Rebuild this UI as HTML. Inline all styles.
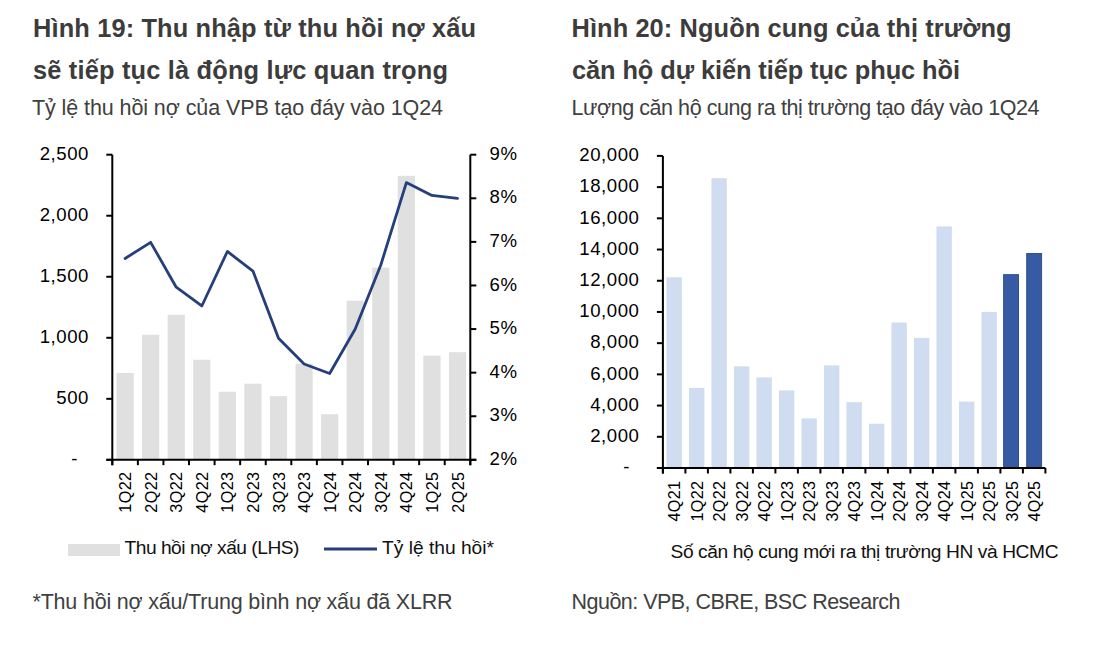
<!DOCTYPE html>
<html><head><meta charset="utf-8"><style>
html,body{margin:0;padding:0;background:#fff;width:1104px;height:654px;overflow:hidden;position:relative}
.t{position:absolute;white-space:nowrap;font-family:"Liberation Sans",sans-serif;line-height:1}
.h{font-weight:bold;color:#3c3c3c;font-size:25.6px}
.s{color:#404040;font-size:20px}
.lg{color:#111;font-size:18px}
</style></head><body>
<svg width="1104" height="654" viewBox="0 0 1104 654" style="position:absolute;left:0;top:0"><rect x="116.49" y="372.94" width="17.2" height="86.91" fill="#e0e0e0"/><rect x="142.06" y="334.74" width="17.2" height="125.11" fill="#e0e0e0"/><rect x="167.63" y="314.84" width="17.2" height="145.01" fill="#e0e0e0"/><rect x="193.20" y="359.76" width="17.2" height="100.09" fill="#e0e0e0"/><rect x="218.77" y="391.74" width="17.2" height="68.11" fill="#e0e0e0"/><rect x="244.34" y="383.68" width="17.2" height="76.17" fill="#e0e0e0"/><rect x="269.91" y="396.13" width="17.2" height="63.72" fill="#e0e0e0"/><rect x="295.49" y="363.67" width="17.2" height="96.18" fill="#e0e0e0"/><rect x="321.06" y="414.20" width="17.2" height="45.65" fill="#e0e0e0"/><rect x="346.63" y="300.68" width="17.2" height="159.17" fill="#e0e0e0"/><rect x="372.20" y="267.61" width="17.2" height="192.24" fill="#e0e0e0"/><rect x="397.77" y="175.82" width="17.2" height="284.03" fill="#e0e0e0"/><rect x="423.34" y="355.61" width="17.2" height="104.24" fill="#e0e0e0"/><rect x="448.91" y="352.19" width="17.2" height="107.66" fill="#e0e0e0"/><polyline points="125.09,258.45 150.66,242.32 176.23,287.22 201.80,305.97 227.37,251.48 252.94,271.09 278.51,338.23 304.09,363.95 329.66,373.54 355.23,329.07 380.80,264.99 406.37,182.60 431.94,195.46 457.51,198.29" fill="none" stroke="#243f7b" stroke-width="2.8" stroke-linejoin="round" stroke-linecap="round"/><g stroke="#000" stroke-width="2" fill="none"><line x1="112.3" y1="154.7" x2="112.3" y2="465.15000000000003"/><line x1="470.3" y1="154.7" x2="470.3" y2="465.15000000000003"/><line x1="106.3" y1="459.85" x2="476.3" y2="459.85"/><line x1="106.3" y1="154.70" x2="112.3" y2="154.70"/><line x1="106.3" y1="215.73" x2="112.3" y2="215.73"/><line x1="106.3" y1="276.76" x2="112.3" y2="276.76"/><line x1="106.3" y1="337.79" x2="112.3" y2="337.79"/><line x1="106.3" y1="398.82" x2="112.3" y2="398.82"/><line x1="106.3" y1="459.85" x2="112.3" y2="459.85"/><line x1="470.3" y1="154.70" x2="476.3" y2="154.70"/><line x1="470.3" y1="198.29" x2="476.3" y2="198.29"/><line x1="470.3" y1="241.89" x2="476.3" y2="241.89"/><line x1="470.3" y1="285.48" x2="476.3" y2="285.48"/><line x1="470.3" y1="329.07" x2="476.3" y2="329.07"/><line x1="470.3" y1="372.66" x2="476.3" y2="372.66"/><line x1="470.3" y1="416.26" x2="476.3" y2="416.26"/><line x1="470.3" y1="459.85" x2="476.3" y2="459.85"/><line x1="112.30" y1="459.85" x2="112.30" y2="465.15000000000003"/><line x1="137.87" y1="459.85" x2="137.87" y2="465.15000000000003"/><line x1="163.44" y1="459.85" x2="163.44" y2="465.15000000000003"/><line x1="189.01" y1="459.85" x2="189.01" y2="465.15000000000003"/><line x1="214.59" y1="459.85" x2="214.59" y2="465.15000000000003"/><line x1="240.16" y1="459.85" x2="240.16" y2="465.15000000000003"/><line x1="265.73" y1="459.85" x2="265.73" y2="465.15000000000003"/><line x1="291.30" y1="459.85" x2="291.30" y2="465.15000000000003"/><line x1="316.87" y1="459.85" x2="316.87" y2="465.15000000000003"/><line x1="342.44" y1="459.85" x2="342.44" y2="465.15000000000003"/><line x1="368.01" y1="459.85" x2="368.01" y2="465.15000000000003"/><line x1="393.59" y1="459.85" x2="393.59" y2="465.15000000000003"/><line x1="419.16" y1="459.85" x2="419.16" y2="465.15000000000003"/><line x1="444.73" y1="459.85" x2="444.73" y2="465.15000000000003"/><line x1="470.30" y1="459.85" x2="470.30" y2="465.15000000000003"/></g><rect x="666.45" y="277.24" width="15.4" height="190.76" fill="#d0dcf0"/><rect x="688.95" y="387.87" width="15.4" height="80.13" fill="#d0dcf0"/><rect x="711.45" y="178.22" width="15.4" height="289.78" fill="#d0dcf0"/><rect x="733.95" y="366.36" width="15.4" height="101.64" fill="#d0dcf0"/><rect x="756.45" y="377.37" width="15.4" height="90.63" fill="#d0dcf0"/><rect x="778.95" y="390.38" width="15.4" height="77.62" fill="#d0dcf0"/><rect x="801.45" y="418.39" width="15.4" height="49.61" fill="#d0dcf0"/><rect x="823.95" y="365.37" width="15.4" height="102.63" fill="#d0dcf0"/><rect x="846.45" y="402.22" width="15.4" height="65.78" fill="#d0dcf0"/><rect x="868.95" y="423.74" width="15.4" height="44.26" fill="#d0dcf0"/><rect x="891.45" y="322.51" width="15.4" height="145.49" fill="#d0dcf0"/><rect x="913.95" y="337.84" width="15.4" height="130.16" fill="#d0dcf0"/><rect x="936.45" y="226.39" width="15.4" height="241.61" fill="#d0dcf0"/><rect x="958.95" y="401.62" width="15.4" height="66.38" fill="#d0dcf0"/><rect x="981.45" y="311.90" width="15.4" height="156.10" fill="#d0dcf0"/><rect x="1003.60" y="274.65" width="14.9" height="193.35" fill="#375ba3" stroke="#2d5199" stroke-width="1"/><rect x="1026.70" y="253.53" width="14.9" height="214.47" fill="#375ba3" stroke="#2d5199" stroke-width="1"/><g stroke="#000" stroke-width="2" fill="none"><line x1="662.9" y1="155.9" x2="662.9" y2="473.5"/><line x1="656.9" y1="468.0" x2="1045.4" y2="468.0"/><line x1="656.9" y1="155.90" x2="662.9" y2="155.90"/><line x1="656.9" y1="187.11" x2="662.9" y2="187.11"/><line x1="656.9" y1="218.32" x2="662.9" y2="218.32"/><line x1="656.9" y1="249.53" x2="662.9" y2="249.53"/><line x1="656.9" y1="280.74" x2="662.9" y2="280.74"/><line x1="656.9" y1="311.95" x2="662.9" y2="311.95"/><line x1="656.9" y1="343.16" x2="662.9" y2="343.16"/><line x1="656.9" y1="374.37" x2="662.9" y2="374.37"/><line x1="656.9" y1="405.58" x2="662.9" y2="405.58"/><line x1="656.9" y1="436.79" x2="662.9" y2="436.79"/><line x1="656.9" y1="468.00" x2="662.9" y2="468.00"/><line x1="662.90" y1="468.0" x2="662.90" y2="473.5"/><line x1="685.40" y1="468.0" x2="685.40" y2="473.5"/><line x1="707.90" y1="468.0" x2="707.90" y2="473.5"/><line x1="730.40" y1="468.0" x2="730.40" y2="473.5"/><line x1="752.90" y1="468.0" x2="752.90" y2="473.5"/><line x1="775.40" y1="468.0" x2="775.40" y2="473.5"/><line x1="797.90" y1="468.0" x2="797.90" y2="473.5"/><line x1="820.40" y1="468.0" x2="820.40" y2="473.5"/><line x1="842.90" y1="468.0" x2="842.90" y2="473.5"/><line x1="865.40" y1="468.0" x2="865.40" y2="473.5"/><line x1="887.90" y1="468.0" x2="887.90" y2="473.5"/><line x1="910.40" y1="468.0" x2="910.40" y2="473.5"/><line x1="932.90" y1="468.0" x2="932.90" y2="473.5"/><line x1="955.40" y1="468.0" x2="955.40" y2="473.5"/><line x1="977.90" y1="468.0" x2="977.90" y2="473.5"/><line x1="1000.40" y1="468.0" x2="1000.40" y2="473.5"/><line x1="1022.90" y1="468.0" x2="1022.90" y2="473.5"/><line x1="1045.40" y1="468.0" x2="1045.40" y2="473.5"/></g><g font-family="Liberation Sans, sans-serif" font-size="18.6" letter-spacing="0.55" fill="#000"><text x="89" y="159.90" text-anchor="end">2,500</text><text x="89" y="220.93" text-anchor="end">2,000</text><text x="89" y="281.96" text-anchor="end">1,500</text><text x="89" y="342.99" text-anchor="end">1,000</text><text x="89" y="404.02" text-anchor="end">500</text><text x="78" y="465.05" text-anchor="end">-</text><text x="489.5" y="159.90">9%</text><text x="489.5" y="203.49">8%</text><text x="489.5" y="247.09">7%</text><text x="489.5" y="290.68">6%</text><text x="489.5" y="334.27">5%</text><text x="489.5" y="377.86">4%</text><text x="489.5" y="421.46">3%</text><text x="489.5" y="465.05">2%</text></g><g font-family="Liberation Sans, sans-serif" font-size="16.2" letter-spacing="0.35" fill="#000"><text transform="translate(131.09,471.65) rotate(-90)" text-anchor="end">1Q22</text><text transform="translate(156.66,471.65) rotate(-90)" text-anchor="end">2Q22</text><text transform="translate(182.23,471.65) rotate(-90)" text-anchor="end">3Q22</text><text transform="translate(207.80,471.65) rotate(-90)" text-anchor="end">4Q22</text><text transform="translate(233.37,471.65) rotate(-90)" text-anchor="end">1Q23</text><text transform="translate(258.94,471.65) rotate(-90)" text-anchor="end">2Q23</text><text transform="translate(284.51,471.65) rotate(-90)" text-anchor="end">3Q23</text><text transform="translate(310.09,471.65) rotate(-90)" text-anchor="end">4Q23</text><text transform="translate(335.66,471.65) rotate(-90)" text-anchor="end">1Q24</text><text transform="translate(361.23,471.65) rotate(-90)" text-anchor="end">2Q24</text><text transform="translate(386.80,471.65) rotate(-90)" text-anchor="end">3Q24</text><text transform="translate(412.37,471.65) rotate(-90)" text-anchor="end">4Q24</text><text transform="translate(437.94,471.65) rotate(-90)" text-anchor="end">1Q25</text><text transform="translate(463.51,471.65) rotate(-90)" text-anchor="end">2Q25</text><text transform="translate(680.15,480.60) rotate(-90)" text-anchor="end">4Q21</text><text transform="translate(702.65,480.60) rotate(-90)" text-anchor="end">1Q22</text><text transform="translate(725.15,480.60) rotate(-90)" text-anchor="end">2Q22</text><text transform="translate(747.65,480.60) rotate(-90)" text-anchor="end">3Q22</text><text transform="translate(770.15,480.60) rotate(-90)" text-anchor="end">4Q22</text><text transform="translate(792.65,480.60) rotate(-90)" text-anchor="end">1Q23</text><text transform="translate(815.15,480.60) rotate(-90)" text-anchor="end">2Q23</text><text transform="translate(837.65,480.60) rotate(-90)" text-anchor="end">3Q23</text><text transform="translate(860.15,480.60) rotate(-90)" text-anchor="end">4Q23</text><text transform="translate(882.65,480.60) rotate(-90)" text-anchor="end">1Q24</text><text transform="translate(905.15,480.60) rotate(-90)" text-anchor="end">2Q24</text><text transform="translate(927.65,480.60) rotate(-90)" text-anchor="end">3Q24</text><text transform="translate(950.15,480.60) rotate(-90)" text-anchor="end">4Q24</text><text transform="translate(972.65,480.60) rotate(-90)" text-anchor="end">1Q25</text><text transform="translate(995.15,480.60) rotate(-90)" text-anchor="end">2Q25</text><text transform="translate(1017.65,480.60) rotate(-90)" text-anchor="end">3Q25</text><text transform="translate(1040.15,480.60) rotate(-90)" text-anchor="end">4Q25</text></g><g font-family="Liberation Sans, sans-serif" font-size="18.6" letter-spacing="0.55" fill="#000"><text x="639.5" y="161.10" text-anchor="end">20,000</text><text x="639.5" y="192.31" text-anchor="end">18,000</text><text x="639.5" y="223.52" text-anchor="end">16,000</text><text x="639.5" y="254.73" text-anchor="end">14,000</text><text x="639.5" y="285.94" text-anchor="end">12,000</text><text x="639.5" y="317.15" text-anchor="end">10,000</text><text x="639.5" y="348.36" text-anchor="end">8,000</text><text x="639.5" y="379.57" text-anchor="end">6,000</text><text x="639.5" y="410.78" text-anchor="end">4,000</text><text x="639.5" y="441.99" text-anchor="end">2,000</text><text x="630" y="473.20" text-anchor="end">-</text></g><rect x="68" y="544" width="52" height="12" fill="#e0e0e0"/><line x1="324" y1="549" x2="377" y2="549" stroke="#243f7b" stroke-width="3"/><text x="33" y="36.7" font-family="Liberation Sans, sans-serif" font-size="25.4" font-weight="bold" fill="#3c3c3c" textLength="443" lengthAdjust="spacing">Hình 19: Thu nhập từ thu hồi nợ xấu</text><text x="33" y="78.6" font-family="Liberation Sans, sans-serif" font-size="25.4" font-weight="bold" fill="#3c3c3c" textLength="415" lengthAdjust="spacing">sẽ tiếp tục là động lực quan trọng</text><text x="32" y="115" font-family="Liberation Sans, sans-serif" font-size="21.5" font-weight="normal" fill="#404040" textLength="411" lengthAdjust="spacing">Tỷ lệ thu hồi nợ của VPB tạo đáy vào 1Q24</text><text x="124.5" y="554" font-family="Liberation Sans, sans-serif" font-size="19.2" font-weight="normal" fill="#111" textLength="175" lengthAdjust="spacing">Thu hồi nợ xấu (LHS)</text><text x="382" y="554" font-family="Liberation Sans, sans-serif" font-size="19.2" font-weight="normal" fill="#111" textLength="112" lengthAdjust="spacing">Tỷ lệ thu hồi*</text><text x="32.5" y="608.9" font-family="Liberation Sans, sans-serif" font-size="21.5" font-weight="normal" fill="#404040" textLength="420" lengthAdjust="spacing">*Thu hồi nợ xấu/Trung bình nợ xấu đã XLRR</text><text x="571.5" y="36.7" font-family="Liberation Sans, sans-serif" font-size="25.4" font-weight="bold" fill="#3c3c3c" textLength="440" lengthAdjust="spacing">Hình 20: Nguồn cung của thị trường</text><text x="572" y="78.6" font-family="Liberation Sans, sans-serif" font-size="25.4" font-weight="bold" fill="#3c3c3c" textLength="388" lengthAdjust="spacing">căn hộ dự kiến tiếp tục phục hồi</text><text x="571.5" y="115" font-family="Liberation Sans, sans-serif" font-size="21.5" font-weight="normal" fill="#404040" textLength="468" lengthAdjust="spacing">Lượng căn hộ cung ra thị trường tạo đáy vào 1Q24</text><text x="670.5" y="557.5" font-family="Liberation Sans, sans-serif" font-size="19.2" font-weight="normal" fill="#111" textLength="388" lengthAdjust="spacing">Số căn hộ cung mới ra thị trường HN và HCMC</text><text x="571.5" y="608.9" font-family="Liberation Sans, sans-serif" font-size="21.5" font-weight="normal" fill="#404040" textLength="329" lengthAdjust="spacing">Nguồn: VPB, CBRE, BSC Research</text></svg>
</body></html>
